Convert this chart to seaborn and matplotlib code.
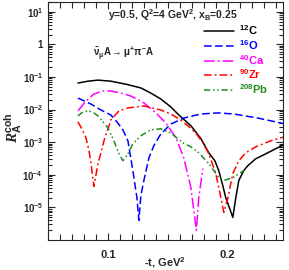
import numpy as np
import pandas as pd
import matplotlib
matplotlib.use("Agg")
import matplotlib.pyplot as plt
import matplotlib.ticker as mticker
import seaborn as sns

# ── data (-t in GeV^2, R_A^coh) ────────────────────────────────
t_c12 = [0.075, 0.0833, 0.0917, 0.1025, 0.115, 0.1275, 0.1358, 0.1442, 0.1525,
         0.1592, 0.1692, 0.1775, 0.1842, 0.1892, 0.1925, 0.1958, 0.1983, 0.2042,
         0.2067, 0.2092, 0.2133, 0.2167, 0.2233, 0.2317, 0.24, 0.2483]
r_c12 = [6.5e-2, 7.4e-2, 8.0e-2, 7.4e-2, 6.0e-2, 4.6e-2, 3.2e-2, 2.1e-2, 1.2e-2,
         6.8e-3, 3.2e-3, 1.3e-3, 4.7e-4, 2.7e-4, 1.34e-4, 4.7e-5, 2.0e-5, 4.95e-6,
         2.0e-5, 6.7e-5, 1.34e-4, 1.9e-4, 3.1e-4, 4.4e-4, 6.3e-4, 8.9e-4]

t_o16 = [0.075, 0.0858, 0.0942, 0.1025, 0.1075, 0.1125, 0.1167, 0.1208, 0.1242,
         0.1258, 0.1275, 0.13, 0.1342, 0.1383, 0.1442, 0.1525, 0.1633, 0.1775,
         0.1917, 0.205, 0.225, 0.2483]
r_o16 = [2.25e-2, 1.48e-2, 9.7e-3, 6.8e-3, 4.2e-3, 2.4e-3, 1.1e-3, 1.34e-4, 2.0e-5,
         4.0e-6, 2.3e-5, 6.7e-5, 3.3e-4, 7.8e-4, 1.8e-3, 3.6e-3, 5.5e-3, 7.3e-3,
         7.9e-3, 7.3e-3, 5.5e-3, 3.6e-3]

t_ca40 = [0.075, 0.0817, 0.0883, 0.0958, 0.1025, 0.1108, 0.1192, 0.13, 0.14,
          0.1483, 0.1567, 0.1633, 0.1692, 0.1738, 0.1758, 0.1792]
r_ca40 = [9.1e-3, 1.83e-2, 3.0e-2, 3.7e-2, 3.7e-2, 3.2e-2, 2.6e-2, 1.6e-2, 7.9e-3,
          3.9e-3, 1.36e-3, 3.3e-4, 4.1e-5, 2.0e-6, 2.0e-5, 1.55e-4]

t_zr90 = [0.075, 0.0783, 0.0817, 0.0842, 0.0858, 0.0883, 0.0917, 0.0942, 0.0967,
          0.1, 0.1025, 0.1092, 0.1167, 0.13, 0.1442, 0.1525, 0.1592, 0.1667,
          0.1733, 0.1792, 0.1842, 0.19, 0.1942, 0.1967, 0.2, 0.2042, 0.2092,
          0.215, 0.2233, 0.2358, 0.2483]
r_zr90 = [4.2e-3, 2.56e-3, 1.36e-3, 5.5e-4, 2.35e-4, 4.4e-5, 2.2e-4, 4.75e-4, 1.1e-3,
          2.56e-3, 4.8e-3, 9.1e-3, 1.12e-2, 1.29e-2, 9.7e-3, 7.3e-3, 5.2e-3, 3.2e-3,
          1.9e-3, 9.6e-4, 4.4e-4, 1.09e-4, 2.0e-5, 7.0e-6, 1.9e-5, 1.09e-4, 2.7e-4,
          4.75e-4, 7.2e-4, 1.1e-3, 1.5e-3]

t_pb208 = [0.075, 0.0792, 0.0842, 0.0883, 0.0917, 0.0967, 0.1, 0.105, 0.1092,
           0.1125, 0.1167, 0.1208, 0.1275, 0.1358, 0.1442, 0.1525, 0.1625, 0.1692,
           0.1758, 0.1842, 0.1925, 0.1967, 0.2042, 0.2133]
r_pb208 = [6.4e-3, 8.5e-3, 9.1e-3, 7.9e-3, 6.4e-3, 3.9e-3, 2.75e-3, 1.1e-3, 4.4e-4,
           2.7e-4, 4.4e-4, 8.9e-4, 1.57e-3, 2.4e-3, 2.56e-3, 1.9e-3, 9.6e-4, 7.2e-4,
           4.75e-4, 2.2e-4, 8.2e-5, 6.7e-5, 8.2e-5, 1.34e-4]

nuclei = ["12C", "16O", "40Ca", "90Zr", "208Pb"]
labels = [r"$^{12}$C", r"$^{16}$O", r"$^{40}$Ca", r"$^{90}$Zr", r"$^{208}$Pb"]
colors = ["black", "#0000ff", "#ff00ff", "#ff0000", "#1e8c1e"]
dashes = ["", (5, 2.2), (7, 2, 1.2, 2), (5, 2, 1.2, 2), (4, 2, 1, 1.5, 1, 2)]

df = pd.concat([
    pd.DataFrame({"t": t, "R": r, "nucleus": n})
    for t, r, n in zip([t_c12, t_o16, t_ca40, t_zr90, t_pb208],
                       [r_c12, r_o16, r_ca40, r_zr90, r_pb208], nuclei)
])

# ── style ─────────────────────────────────────────────────
sns.set_theme(style="ticks")
plt.rcParams.update({
    "font.family": ["Liberation Sans", "DejaVu Sans"],
    "font.weight": "bold",
    "mathtext.fontset": "custom",
    "mathtext.rm": "Liberation Sans:bold",
    "mathtext.it": "Liberation Sans:bold",
    "mathtext.bf": "Liberation Sans:bold",
    "mathtext.default": "rm",
    "axes.linewidth": 0.8,
})

fig = plt.figure(figsize=(2.89, 2.70), dpi=100)
ax = fig.add_axes([0.166, 0.111, 0.813, 0.882])

sns.lineplot(data=df, x="t", y="R", hue="nucleus", style="nucleus",
             hue_order=nuclei, style_order=nuclei,
             palette=dict(zip(nuclei, colors)), dashes=dict(zip(nuclei, dashes)),
             sort=False, linewidth=1.1, legend=False, ax=ax)

ax.set_yscale("log")
ax.set_xlim(0.05, 0.246)
ax.set_ylim(1e-6, 20)

# ticks: ROOT-like, inside on all sides
ax.xaxis.set_major_locator(mticker.FixedLocator([0.1, 0.2]))
ax.xaxis.set_minor_locator(mticker.MultipleLocator(0.01))
ax.xaxis.set_major_formatter(mticker.FixedFormatter(["0.1", "0.2"]))
ax.yaxis.set_major_locator(mticker.FixedLocator([1e-5, 1e-4, 1e-3, 1e-2, 1e-1, 1, 10]))
ax.yaxis.set_minor_locator(mticker.LogLocator(base=10, subs=np.arange(2, 10), numticks=20))
ax.yaxis.set_minor_formatter(mticker.NullFormatter())


def ylab(v, pos):
    e = int(round(np.log10(v)))
    return "1" if e == 0 else r"10$^{%d}$" % e


ax.yaxis.set_major_formatter(mticker.FuncFormatter(ylab))
ax.tick_params(which="both", direction="in", top=True, right=True, width=0.8)
ax.tick_params(axis="y", labelsize=7, pad=3.5)
ax.tick_params(axis="x", labelsize=8, pad=7)
ax.tick_params(which="major", length=5)
ax.tick_params(which="minor", length=3)
ax.tick_params(axis="x", which="minor", length=4)

ax.set_xlabel(r"-t, GeV$^{2}$", fontsize=8, fontweight="bold", labelpad=-3)
ax.set_ylabel(r"R$_{A}^{coh}$", fontsize=11, fontweight="bold",
              fontfamily="Liberation Serif", fontstyle="italic")
ax.yaxis.set_label_coords(-0.1, 0.47)

ax.text(0.255, 0.945, r"y=0.5, Q$^{2}$=4 GeV$^{2}$, x$_{B}$=0.25",
        transform=ax.transAxes, fontsize=7.5, fontweight="bold", va="center")
ax.text(0.19, 0.786, r"$\bar{\nu}_{\mu}$A$\rightarrow\mu^{+}\pi^{-}$A",
        transform=ax.transAxes, fontsize=7, fontweight="bold", va="center")

leg = ax.legend(ax.lines, labels, loc="upper left", bbox_to_anchor=(0.664, 0.91),
                frameon=False, fontsize=8, handlelength=2.7, handletextpad=0.45,
                labelspacing=0.08, borderpad=0, borderaxespad=0)
for txt, c in zip(leg.get_texts(), colors):
    txt.set_color(c)
    txt.set_fontweight("bold")

fig.savefig("out.png", dpi=100)
